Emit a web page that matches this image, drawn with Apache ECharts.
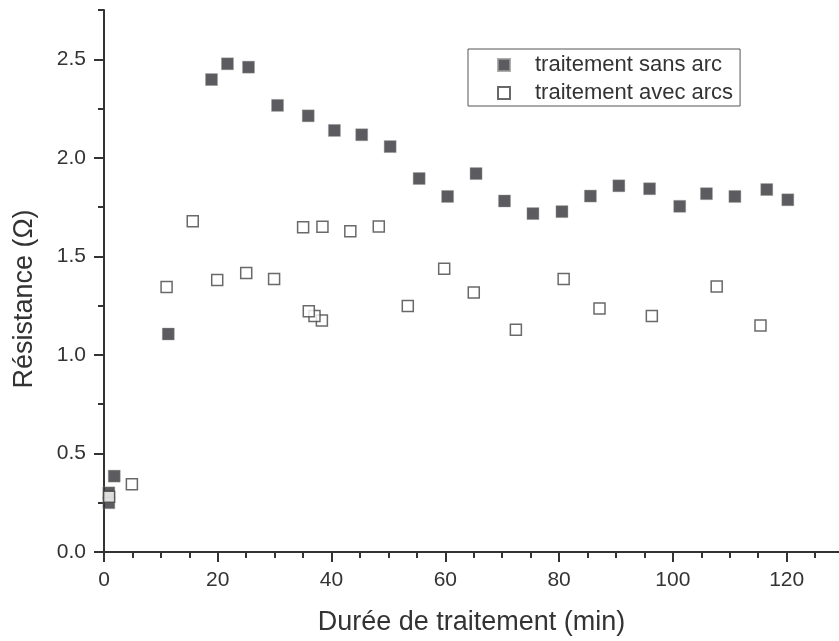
<!DOCTYPE html>
<html>
<head>
<meta charset="utf-8">
<script src="https://cdn.jsdelivr.net/npm/echarts@6/dist/echarts.min.js"></script>
<style>html,body{margin:0;padding:0;background:#fff}#c{width:839px;height:641px}</style>
</head>
<body>
<div id="c"></div>
<script>
const seriesNames = ['traitement sans arc', 'traitement avec arcs'];
const sansX = [0.85, 0.85, 1.8, 11.3, 18.9, 21.7, 25.4, 30.5, 35.9, 40.5, 45.3, 50.3, 55.4, 60.4, 65.4, 70.4, 75.4, 80.5, 85.5, 90.5, 95.9, 101.2, 105.9, 110.9, 116.5, 120.2];
const sansY = [0.25, 0.30, 0.385, 1.106, 2.397, 2.477, 2.460, 2.266, 2.213, 2.139, 2.117, 2.057, 1.895, 1.804, 1.920, 1.781, 1.717, 1.727, 1.806, 1.858, 1.843, 1.754, 1.818, 1.804, 1.839, 1.787];
const avecX = [0.9, 4.9, 11.0, 15.6, 19.9, 25.0, 29.9, 35.0, 38.3, 37.0, 36.0, 38.4, 43.3, 48.3, 53.4, 59.8, 65.0, 72.4, 80.8, 87.1, 96.3, 107.7, 115.4];
const avecY = [0.28, 0.344, 1.345, 1.678, 1.380, 1.416, 1.385, 1.648, 1.174, 1.198, 1.221, 1.650, 1.628, 1.652, 1.248, 1.437, 1.317, 1.128, 1.385, 1.235, 1.198, 1.347, 1.149];
const xTicks = [0, 20, 40, 60, 80, 100, 120];
const xMinorTicks = [5, 10, 15, 25, 30, 35, 45, 50, 55, 65, 70, 75, 85, 90, 95, 105, 110, 115, 125];
const yTicks = [0, 0.5, 1.0, 1.5, 2.0, 2.5];
const yMinorTicks = [0.25, 0.75, 1.25, 1.75, 2.25, 2.75];
const xTitle = 'Durée de traitement (min)';
const yTitle = 'Résistance (Ω)';

const pairs = (xs, ys) => xs.map((x, i) => [x, ys[i]]);
const font = 'Liberation Sans, Arial, sans-serif';
const ink = '#333333';
const X_MIN = 0, X_MAX = 129.2, Y_MIN = 0, Y_MAX = 2.75;

const chart = echarts.init(document.getElementById('c'), null, {renderer: 'canvas'});
chart.setOption({
  animation: false,
  backgroundColor: '#ffffff',
  grid: {left: 104, top: 10, right: 0, bottom: 84, containLabel: false},
  legend: {
    orient: 'vertical',
    left: 468, top: 49,
    padding: [5, 7, 2, 29],
    itemGap: 6,
    itemWidth: 12, itemHeight: 12,
    borderColor: '#555555', borderWidth: 1,
    textStyle: {fontFamily: font, fontSize: 22, color: ink, padding: [0, 0, 0, 20]},
    data: [
      {name: seriesNames[0], icon: 'rect'},
      {name: seriesNames[1], icon: 'rect'}
    ]
  },
  xAxis: [{
    type: 'value', min: X_MIN, max: X_MAX, position: 'bottom',
    name: xTitle, nameLocation: 'middle', nameGap: 57,
    nameTextStyle: {fontFamily: font, fontSize: 27, color: ink},
    axisLine: {show: true, lineStyle: {color: ink, width: 2}},
    axisTick: {show: true, inside: false, length: 10, customValues: xTicks, lineStyle: {color: ink, width: 2}},
    axisLabel: {fontFamily: font, fontSize: 21, color: ink, margin: 18, customValues: xTicks},
    splitLine: {show: false}
  }, {
    type: 'value', min: X_MIN, max: X_MAX, position: 'bottom',
    axisLine: {show: false},
    axisTick: {show: true, inside: false, length: 6, customValues: xMinorTicks, lineStyle: {color: ink, width: 2}},
    axisLabel: {show: false},
    splitLine: {show: false}
  }],
  yAxis: [{
    type: 'value', min: Y_MIN, max: Y_MAX, position: 'left',
    name: yTitle, nameLocation: 'middle', nameGap: 66,
    nameTextStyle: {fontFamily: font, fontSize: 27, color: ink, padding: [0, 36, 0, 0]},
    axisLine: {show: true, lineStyle: {color: ink, width: 2}},
    axisTick: {show: true, inside: false, length: 10, customValues: yTicks, lineStyle: {color: ink, width: 2}},
    axisLabel: {fontFamily: font, fontSize: 21, color: ink, margin: 18, customValues: yTicks, formatter: v => v.toFixed(1)},
    splitLine: {show: false}
  }, {
    type: 'value', min: Y_MIN, max: Y_MAX, position: 'left',
    axisLine: {show: false},
    axisTick: {show: true, inside: false, length: 6, customValues: yMinorTicks, lineStyle: {color: ink, width: 2}},
    axisLabel: {show: false},
    splitLine: {show: false}
  }],
  series: [
    {
      name: seriesNames[0], type: 'scatter', symbol: 'rect', symbolSize: 12,
      xAxisIndex: 0, yAxisIndex: 0,
      itemStyle: {color: '#333338', borderColor: '#9a9a9a', borderWidth: 0.5},
      data: pairs(sansX, sansY)
    },
    {
      name: seriesNames[1], type: 'scatter', symbol: 'rect', symbolSize: 11,
      xAxisIndex: 0, yAxisIndex: 0,
      itemStyle: {color: '#ffffff', borderColor: '#444444', borderWidth: 1.5},
      data: pairs(avecX, avecY)
    }
  ]
});
</script>
</body>
</html>
